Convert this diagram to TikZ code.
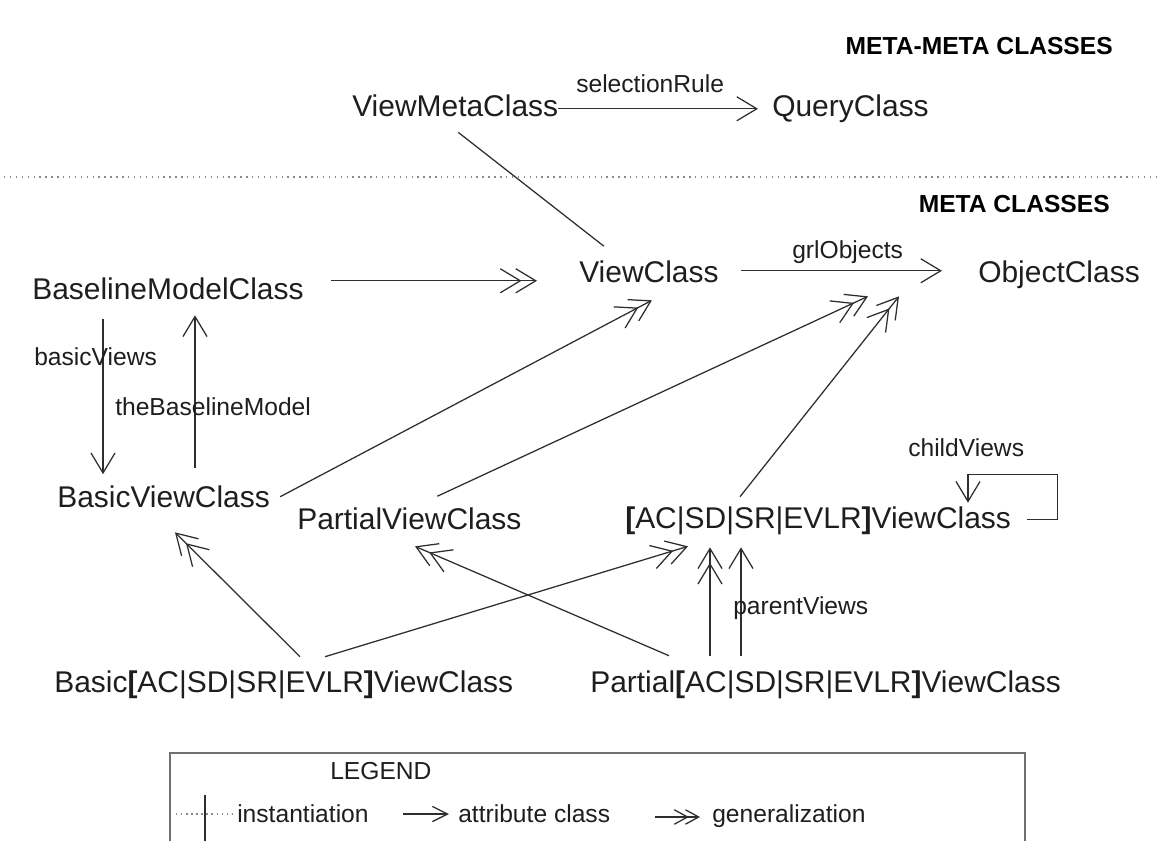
\documentclass[tikz,border=0pt]{standalone}
\usepackage{fontspec}
\setmainfont{Liberation Sans}
\usetikzlibrary{arrows.meta, calc}
\definecolor{metaink}{HTML}{1E1E1E}
\definecolor{metaline}{HTML}{2E2E2E}
\definecolor{metadots}{HTML}{8A8A8A}
\definecolor{metaframe}{HTML}{707070}

\begin{document}
\begin{tikzpicture}[
        x=0.025cm,
        y=-0.025cm,
        metaclass/.style={
            inner sep=0pt,
            anchor=base west,
            text=metaink,
            text height=16pt,
            text depth=4.3pt,
            font=\fontsize{21.3}{25}\selectfont
        },
        rolelabel/.style={
            inner sep=0pt,
            anchor=base west,
            text=metaink,
            font=\fontsize{17.5}{21}\selectfont
        },
        levelheading/.style={
            inner sep=0pt,
            anchor=base east,
            text=black,
            font=\fontsize{17.5}{21}\selectfont\bfseries
        },
        attribute/.style={
            metaline,
            line width=0.9pt,
            -{Straight Barb[length=5mm,width=6mm]}
        },
        generalization/.style={
            metaline,
            line width=0.9pt,
            -{Straight Barb[length=5mm,width=6mm,sep=-1.6mm]Straight Barb[length=5mm,width=6mm]}
        },
        instantiation/.style={
            metaline,
            line width=0.9pt
        },
        levelrule/.style={
            metadots,
            line width=1pt,
            dash pattern=on 1pt off 3.2pt
        },
        keyattribute/.style={
            metaline,
            line width=0.9pt,
            -{Straight Barb[length=3.8mm,width=3.8mm]}
        },
        keygeneralization/.style={
            metaline,
            line width=0.9pt,
            -{Straight Barb[length=3.3mm,width=3.6mm,sep=-1mm]Straight Barb[length=3.3mm,width=3.6mm]}
        }
    ]

        \useasboundingbox (0,0) rectangle (1160,841);

        % ---------------------------------------------------------------------
        % Meta-meta level
        % ---------------------------------------------------------------------

        \node[levelheading] (metametahead) at (1113,55) {META-META CLASSES};

        \node[metaclass] (viewmeta) at (352,117) {ViewMetaClass};
        \node[metaclass] (query) at (772,117) {QueryClass};

        \draw[attribute]
            (viewmeta.east) -- ($(query.west)+(-14,0)$);
        \node[rolelabel] (selrule) at (576,93) {selectionRule};

        % dotted border between the two levels
        \coordinate (ruleW) at (4,177);
        \coordinate (ruleE) at (1160,177);
        \draw[levelrule] (ruleW) -- (ruleE);

        % ---------------------------------------------------------------------
        % Meta level
        % ---------------------------------------------------------------------

        \node[levelheading] (metahead) at (1110,212) {META CLASSES};

        \node[metaclass] (baseline) at (32,299) {BaselineModelClass};
        \node[metaclass] (view) at (579,282) {ViewClass};
        \node[metaclass] (object) at (978,282) {ObjectClass};

        \node[metaclass] (basic) at (57,507) {BasicViewClass};
        \node[metaclass] (partial) at (297,529) {PartialViewClass};
        \node[metaclass] (acview) at (625,528)
            {{\bfseries[}AC|SD|SR|EVLR{\bfseries]}ViewClass};

        \node[metaclass] (basicac) at (54,692)
            {Basic{\bfseries[}AC|SD|SR|EVLR{\bfseries]}ViewClass};
        \node[metaclass] (partialac) at (590,692)
            {Partial{\bfseries[}AC|SD|SR|EVLR{\bfseries]}ViewClass};

        % ViewClass is an instance of ViewMetaClass
        \draw[instantiation]
            ($(viewmeta.south)+(3,9)$) -- ($(view.north)+(-45,-13)$);

        \draw[generalization]
            ($(baseline.east)+(27,-10)$) -- ($(view.west)+(-42,7)$);

        \draw[attribute]
            ($(view.east)+(22,-3)$) -- ($(object.west)+(-36,-3)$);
        \node[rolelabel] (grlobj) at (792,258) {grlObjects};

        \draw[attribute]
            ($(baseline.south west)+(71,14)$) -- ($(basic.north west)+(46,-10)$);
        \node[rolelabel] (basicviews) at (34,365) {basicViews};

        \draw[attribute]
            ($(basic.north west)+(138,-16)$) -- ($(baseline.south west)+(163,10)$);
        \node[rolelabel] (thebaseline) at (115,415) {theBaselineModel};

        \draw[generalization]
            ($(basic.east)+(10,-2)$) -- ($(view.south)+(3,12)$);

        \draw[generalization]
            ($(partial.north)+(28,-10)$) -- ($(object.south west)+(-110,8)$);

        \draw[generalization]
            ($(acview.north west)+(115,-8.5)$) -- ($(object.south west)+(-79,8)$);

        % childViews loop back onto the same class
        \draw[attribute]
            ($(acview.east)+(16,0)$)
            -- ++(30,0)
            -- ++(0,-45)
            -| ($(acview.north west)+(343,-2.5)$);
        \node[rolelabel] (childviews) at (908,456) {childViews};

        % ---------------------------------------------------------------------
        % Combined view classes
        % ---------------------------------------------------------------------

        \draw[generalization]
            ($(basicac.north west)+(246,-12.5)$) -- ($(basic.south west)+(118,19)$);

        \draw[generalization]
            ($(basicac.north west)+(271,-12.5)$) -- ($(acview.south west)+(63,12)$);

        \draw[generalization]
            ($(partialac.north west)+(79,-13.5)$) -- ($(partial.south west)+(118,11)$);

        \draw[generalization]
            ($(partialac.north west)+(120,-13.5)$) -- ($(acview.south west)+(85,13)$);

        \draw[attribute]
            ($(partialac.north west)+(151,-13.5)$) -- ($(acview.south west)+(116,13)$);
        \node[rolelabel] (parentviews) at (733,614) {parentViews};

        % ---------------------------------------------------------------------
        % Legend
        % ---------------------------------------------------------------------

        \coordinate (keySW) at (170,850);
        \coordinate (keyNW) at (170,753);
        \coordinate (keyNE) at (1025,753);
        \coordinate (keySE) at (1025,850);
        \draw[metaframe, line width=1.4pt] (keySW) -- (keyNW) -- (keyNE) -- (keySE);

        \node[rolelabel] (keytitle) at (330,779) {LEGEND};

        \coordinate (dotW) at (176,814);
        \coordinate (dotE) at (235,814);
        \coordinate (barN) at (205,795);
        \coordinate (barS) at (205,850);
        \draw[levelrule, line width=1.2pt, dash pattern=on 1pt off 2.6pt] (dotW) -- (dotE);
        \draw[instantiation] (barN) -- (barS);
        \node[rolelabel] (keyinst) at (237,822) {instantiation};

        \coordinate (attrW) at (403,814);
        \coordinate (attrE) at (449,814);
        \draw[keyattribute] (attrW) -- (attrE);
        \node[rolelabel] (keyattr) at (458,822) {attribute class};

        \coordinate (genW) at (655,817);
        \coordinate (genE) at (700,817);
        \draw[keygeneralization] (genW) -- (genE);
        \node[rolelabel] (keygen) at (712,822) {generalization};

    \end{tikzpicture}
\end{document}
